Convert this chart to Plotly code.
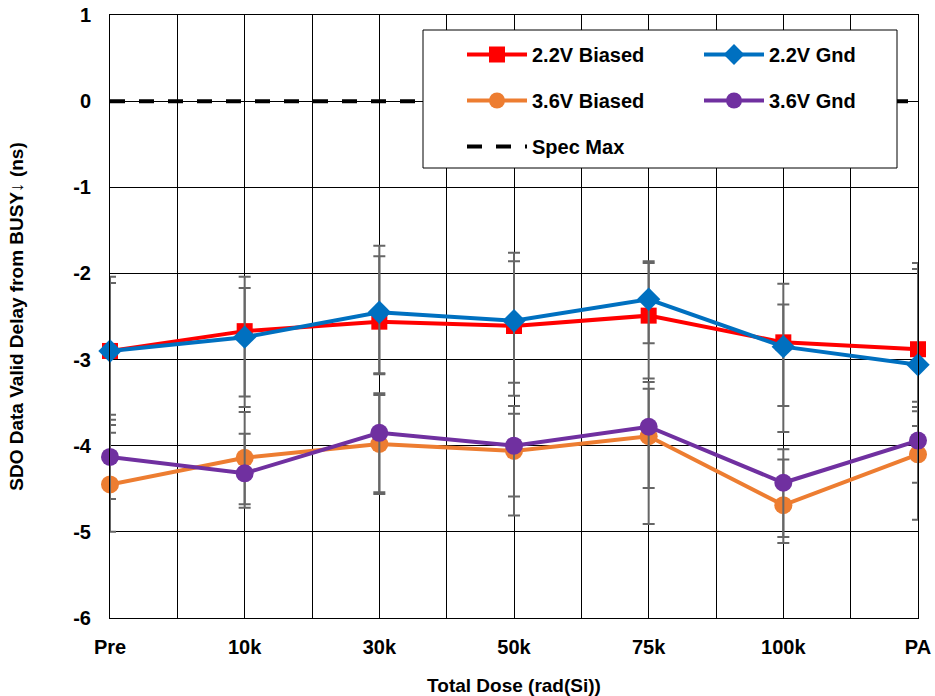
import plotly.graph_objects as go

categories = ["Pre", "10k", "30k", "50k", "75k", "100k", "PA"]
x_pos = [0, 1, 2, 3, 4, 5, 6]
y_ticks = [-6, -5, -4, -3, -2, -1, 0, 1]
y_ticktext = ["-6", "-5", "-4", "-3", "-2", "-1", "0", "1"]

b22_vals = [-2.90, -2.67, -2.56, -2.61, -2.49, -2.80, -2.88]
b22_hi = [-2.04, -2.04, -1.80, -1.86, -1.88, -2.12, -1.88]
b22_lo = [-3.76, -3.55, -3.17, -3.42, -2.81, -3.54, -3.55]

g22_vals = [-2.90, -2.74, -2.45, -2.55, -2.30, -2.85, -3.06]
g22_hi = [-2.11, -2.17, -1.68, -1.76, -1.86, -2.36, -1.95]
g22_lo = [-3.85, -3.43, -3.16, -3.27, -3.22, -3.84, -3.60]

b36_vals = [-4.45, -4.14, -3.98, -4.06, -3.89, -4.69, -4.10]
b36_hi = [-3.70, -3.61, -3.41, -3.63, -3.34, -4.16, -3.77]
b36_lo = [-5.00, -4.68, -4.56, -4.81, -4.91, -5.13, -4.86]

g36_vals = [-4.13, -4.32, -3.85, -4.00, -3.78, -4.43, -3.94]
g36_hi = [-3.64, -3.86, -3.39, -3.54, -3.26, -4.04, -3.49]
g36_lo = [-4.62, -4.72, -4.54, -4.59, -4.49, -5.06, -4.43]

spec_max = [0, 0, 0, 0, 0, 0, 0]

FONT = "Liberation Sans, Arial, sans-serif"
ERR = "#666666"

fig = go.Figure()

def add_series(name, vals, hi, lo, color, symbol, size, legend):
    fig.add_trace(go.Scatter(
        x=x_pos, y=vals, name=name, mode="lines+markers",
        line=dict(color=color, width=4),
        marker=dict(color=color, symbol=symbol, size=size),
        error_y=dict(type="data", symmetric=False,
                     array=[h - v for h, v in zip(hi, vals)],
                     arrayminus=[v - l for l, v in zip(lo, vals)],
                     color=ERR, thickness=2, width=6),
        cliponaxis=False, legend=legend, legendgroup=name,
    ))

add_series("2.2V Biased", b22_vals, b22_hi, b22_lo, "#ff0000", "square", 16, "legend")
add_series("2.2V Gnd", g22_vals, g22_hi, g22_lo, "#0070c0", "diamond", 18, "legend2")
add_series("3.6V Biased", b36_vals, b36_hi, b36_lo, "#ed7d31", "circle", 18, "legend")
add_series("3.6V Gnd", g36_vals, g36_hi, g36_lo, "#7030a0", "circle", 18, "legend2")
fig.add_trace(go.Scatter(
    x=x_pos, y=spec_max, name="Spec Max", mode="lines",
    line=dict(color="black", width=4, dash="15px,14px"),
    legend="legend", legendgroup="Spec Max", cliponaxis=False,
))

tickvals = [i * 0.5 for i in range(13)]
ticktext = [categories[i // 2] if i % 2 == 0 else "" for i in range(13)]

legend_common = dict(
    yanchor="top", y=(618 - 35) / 603,
    bgcolor="rgba(0,0,0,0)", borderwidth=0, tracegroupgap=17,
    traceorder="grouped", itemwidth=60,
    font=dict(size=20, family=FONT, weight="bold", color="black"),
)

fig.update_layout(
    width=935, height=696,
    margin=dict(l=110, r=17, t=15, b=78),
    plot_bgcolor="white", paper_bgcolor="white",
    font=dict(family=FONT, size=20, color="black", weight="bold"),
    xaxis=dict(
        range=[0, 6], tickvals=tickvals, ticktext=ticktext,
        showgrid=True, gridcolor="#000000", gridwidth=1,
        showline=True, linecolor="black", linewidth=1, mirror=True,
        zeroline=False, ticks="", ticklabelstandoff=11, automargin=False,
        title=dict(text="Total Dose (rad(Si))", standoff=28,
                   font=dict(size=19, family=FONT, weight="bold")),
        tickfont=dict(size=20, family=FONT, weight="bold"),
    ),
    yaxis=dict(
        range=[-6, 1], tickvals=y_ticks, ticktext=y_ticktext,
        showgrid=True, gridcolor="#000000", gridwidth=1,
        showline=True, linecolor="black", linewidth=1, mirror=True,
        zeroline=False, ticks="", ticklabelstandoff=14, automargin=False,
        title=dict(text="SDO Data Valid Delay from BUSY↓ (ns)", standoff=44,
                   font=dict(size=19, family=FONT, weight="bold")),
        tickfont=dict(size=20, family=FONT, weight="bold"),
    ),
    legend=dict(x=(462 - 110) / 808, xanchor="left", **legend_common),
    legend2=dict(x=(699 - 110) / 808, xanchor="left", **legend_common),
    showlegend=True,
)

# Legend frame (white box over grid)
fig.add_shape(type="rect", xref="paper", yref="paper",
              x0=(423 - 110) / 808, x1=(897 - 110) / 808,
              y0=(618 - 168) / 603, y1=(618 - 30) / 603,
              line=dict(color="black", width=1), fillcolor="white", layer="above")

fig.write_html("out.html", config={"displayModeBar": False},
               post_script="document.body.style.margin='0px';")
